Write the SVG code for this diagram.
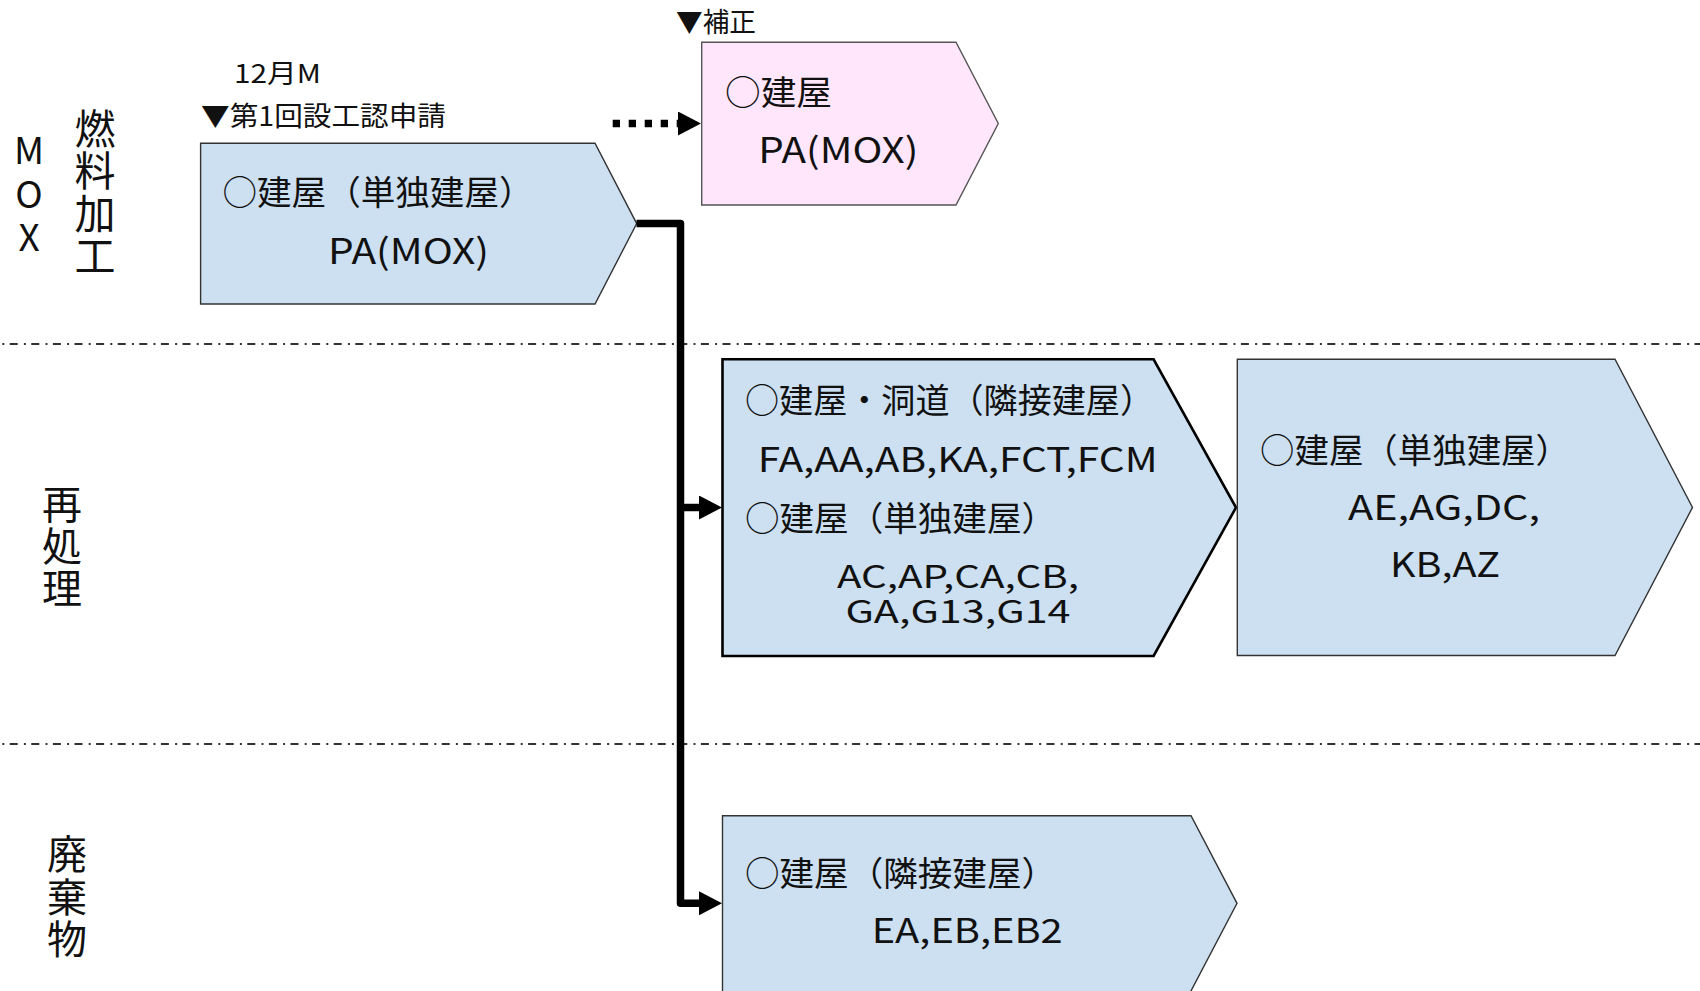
<svg xmlns="http://www.w3.org/2000/svg" width="1700" height="991" viewBox="0 0 1700 991">
<style>
text{font-family:"Noto Sans CJK JP","Noto Sans",sans-serif;fill:#111}
.t{font-size:34px}
.s{font-size:27px}
.v{font-size:40px;writing-mode:vertical-rl;text-orientation:upright}
.blue{fill:#CCE0F1;stroke:#333;stroke-width:1.4}
.pink{fill:#FFE6FB;stroke:#555;stroke-width:1.4}
.sep{stroke:#333;stroke-width:2;fill:none;stroke-dasharray:2 5.4 8 6.2;stroke-dashoffset:-2.3}
.conn{fill:none;stroke:#000;stroke-width:7.5;stroke-linejoin:round}
</style>
<defs>
<marker id="ah" markerUnits="userSpaceOnUse" markerWidth="24" markerHeight="24" refX="0" refY="12" orient="auto">
<path d="M0,0 L23,12 L0,24 Z" fill="#000"/>
</marker>
</defs>
<rect width="1700" height="991" fill="#fff"/>

<g id="separators">
<line class="sep" x1="0" y1="344" x2="1700" y2="344"/>
<line class="sep" x1="0" y1="744" x2="1700" y2="744"/>
</g>

<g id="labels">
<text class="v" style="font-size:37px;letter-spacing:6.5px" x="29" y="131.5">MOX</text>
<text class="v" style="font-size:41px;letter-spacing:1.5px" x="95" y="107.5">燃料加工</text>
<text class="v" style="letter-spacing:2px" x="62" y="483.6">再処理</text>
<text class="v" style="letter-spacing:2.5px" x="67" y="834">廃棄物</text>
<text class="s" style="font-size:26px" x="234" y="83" textLength="87" lengthAdjust="spacingAndGlyphs">12月M</text>
<text class="s" x="201" y="126" textLength="245" lengthAdjust="spacingAndGlyphs">▼第1回設工認申請</text>
<text class="s" x="676" y="32" textLength="80" lengthAdjust="spacingAndGlyphs">▼補正</text>
</g>

<g id="node-pa-mox">
<polygon class="blue" points="200.6,143.3 595,143.3 636.7,223.6 595,304 200.6,304"/>
<text class="t" x="222.5" y="205" textLength="311" lengthAdjust="spacingAndGlyphs">○建屋（単独建屋）</text>
<text class="t" style="font-size:35px" x="328" y="264" textLength="161" lengthAdjust="spacingAndGlyphs">PA(MOX)</text>
</g>

<g id="node-pa-mox-hosei">
<polygon class="pink" points="701.7,42.3 956,42.3 998.3,123.5 956,205 701.7,205"/>
<text class="t" x="725" y="104.5" textLength="107" lengthAdjust="spacingAndGlyphs">○建屋</text>
<text class="t" style="font-size:35px" x="758.3" y="163.3" textLength="160" lengthAdjust="spacingAndGlyphs">PA(MOX)</text>
</g>

<g id="node-reprocess-1">
<polygon fill="#CCE0F1" stroke="#000" stroke-width="2.6" points="722.5,359.3 1153.6,359.3 1236,507.5 1153.6,656 722.5,656"/>
<text class="t" x="745" y="412.5" textLength="409" lengthAdjust="spacingAndGlyphs">○建屋・洞道（隣接建屋）</text>
<text class="t" x="757.7" y="471.7" textLength="400" lengthAdjust="spacingAndGlyphs">FA,AA,AB,KA,FCT,FCM</text>
<text class="t" x="745" y="531" textLength="311" lengthAdjust="spacingAndGlyphs">○建屋（単独建屋）</text>
<text class="t" style="font-size:31.5px" x="837" y="588" textLength="242" lengthAdjust="spacingAndGlyphs">AC,AP,CA,CB,</text>
<text class="t" style="font-size:31.5px" x="845.5" y="623" textLength="225" lengthAdjust="spacingAndGlyphs">GA,G13,G14</text>
</g>

<g id="node-reprocess-2">
<polygon class="blue" points="1237.3,359.3 1615,359.3 1692.5,507.4 1615,655.5 1237.3,655.5"/>
<text class="t" x="1260" y="462.5" textLength="310" lengthAdjust="spacingAndGlyphs">○建屋（単独建屋）</text>
<text class="t" x="1348" y="520" textLength="192" lengthAdjust="spacingAndGlyphs">AE,AG,DC,</text>
<text class="t" x="1390" y="576.7" textLength="110" lengthAdjust="spacingAndGlyphs">KB,AZ</text>
</g>

<g id="node-waste">
<polygon class="blue" points="722.5,815.7 1191,815.7 1237,903.3 1189.9,993 722.5,993"/>
<text class="t" x="745" y="886" textLength="311" lengthAdjust="spacingAndGlyphs">○建屋（隣接建屋）</text>
<text class="t" x="871.7" y="943.3" textLength="191" lengthAdjust="spacingAndGlyphs">EA,EB,EB2</text>
</g>

<g id="connectors">
<path class="conn" d="M636.5,223.5 H680.5 V903.3 H699" marker-end="url(#ah)"/>
<path class="conn" d="M680.5,507.5 H699" marker-end="url(#ah)"/>
<path class="conn" d="M612.7,123.5 H678" stroke-dasharray="7.3 8.7" stroke-linejoin="miter" marker-end="url(#ah)"/>
</g>
</svg>
